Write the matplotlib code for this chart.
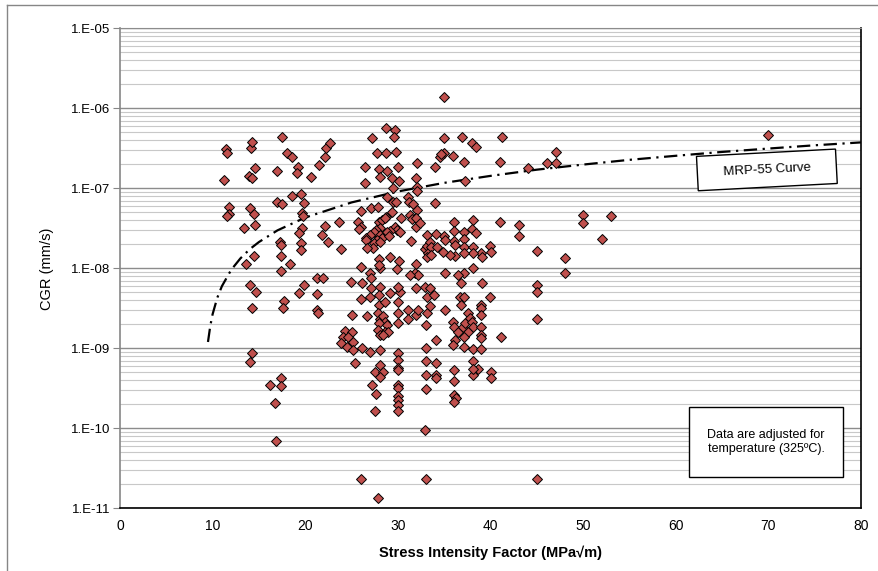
"""
CGR vs stress intensity factor with the MRP-55 curve, out.png.
"""
import matplotlib
matplotlib.use("Agg")
import matplotlib.pyplot as plt
from matplotlib.lines import Line2D
from matplotlib.patches import Rectangle
from matplotlib.ticker import LogLocator, FixedLocator, NullFormatter

plt.rcParams["font.family"] = ["Liberation Sans", "DejaVu Sans"]

# data points, K in MPa*sqrt(m), CGR in mm/s, grouped by K range
K_LOW = [11.4, 11.6, 11.2, 11.8, 11.8, 11.6, 13.4, 13.6, 14.5, 14.1,
         14.3, 14.6, 13.9, 14.2, 14.0, 14.5, 14.6, 17.5, 18.0, 18.6,
         19.2, 19.1, 16.9, 20.6, 21.5, 22.1, 22.2, 22.7, 18.6, 19.5,
         19.9, 19.7, 19.8, 16.9, 17.5, 19.7, 19.3, 19.5, 19.5, 17.3,
         17.4, 17.4, 18.4, 17.4, 21.8, 22.5, 22.1, 23.6, 23.9, 21.3,
         21.9, 14.0, 14.7, 19.9, 19.3, 21.3, 17.7, 17.6, 14.2, 14.2,
         14.0, 21.3, 21.4, 17.4, 17.4, 16.2, 16.7, 16.8]
CGR_LOW = [3.1e-7, 2.8e-7, 1.27e-7, 5.8e-8, 4.8e-8, 4.5e-8, 3.2e-8, 1.12e-8, 1.42e-8, 3.2e-7,
           3.8e-7, 1.8e-7, 1.42e-7, 1.36e-7, 5.6e-8, 4.8e-8, 3.5e-8, 4.35e-7, 2.8e-7, 2.46e-7,
           1.83e-7, 1.54e-7, 1.65e-7, 1.4e-7, 1.96e-7, 2.44e-7, 3.16e-7, 3.65e-7, 8.1e-8, 8.5e-8,
           6.5e-8, 4.9e-8, 4.5e-8, 6.8e-8, 6.4e-8, 3.2e-8, 2.8e-8, 2.07e-8, 1.68e-8, 2.13e-8,
           1.98e-8, 1.44e-8, 1.12e-8, 9.2e-9, 2.6e-8, 2.15e-8, 3.4e-8, 3.76e-8, 1.76e-8, 7.5e-9,
           7.5e-9, 6.1e-9, 5.0e-9, 6.1e-9, 4.9e-9, 4.75e-9, 3.9e-9, 3.2e-9, 3.2e-9, 8.8e-10,
           6.7e-10, 3.0e-9, 2.8e-9, 4.2e-10, 3.4e-10, 3.5e-10, 2.07e-10, 6.9e-11]

K_HIGH_CGR = [35.0, 28.7, 29.7, 29.6, 27.2, 27.7, 28.7, 29.8, 32.1, 26.4,
              28.0, 28.8, 30.0, 28.1, 29.4, 30.1, 26.4, 29.5, 32.0, 32.1,
              32.1, 35.0, 36.9, 38.0, 38.4, 35.0, 34.5, 36.0, 37.1, 34.0,
              37.3, 41.2, 41.0, 44.0, 46.1, 47.1, 47.1, 70.0, 34.0, 34.7]
CGR_HIGH_CGR = [1.4e-6, 5.7e-7, 5.35e-7, 4.4e-7, 4.2e-7, 2.8e-7, 2.8e-7, 2.87e-7, 2.1e-7, 1.87e-7,
                1.73e-7, 1.65e-7, 1.85e-7, 1.4e-7, 1.35e-7, 1.24e-7, 1.17e-7, 1.02e-7, 1.35e-7, 1.03e-7,
                9.2e-8, 4.3e-7, 4.35e-7, 3.7e-7, 3.3e-7, 2.8e-7, 2.46e-7, 2.53e-7, 2.13e-7, 1.85e-7,
                1.25e-7, 4.35e-7, 2.16e-7, 1.78e-7, 2.05e-7, 2.82e-7, 2.1e-7, 4.7e-7, 6.6e-8, 2.7e-7]

K_MID = [28.8, 29.5, 29.8, 31.1, 31.2, 31.6, 32.1, 26.0, 27.1, 27.9,
         25.7, 26.0, 25.8, 28.0, 28.3, 28.7, 28.6, 29.4, 30.3, 31.3,
         31.5, 32.0, 29.7, 29.9, 30.2, 29.2, 28.8, 28.1, 27.6, 27.4,
         27.0, 26.6, 26.6, 28.1, 28.3, 27.7, 29.0, 27.4, 28.1, 27.3,
         26.7, 32.0, 32.4, 31.4, 32.9, 33.1, 33.3, 33.1, 28.0, 29.2,
         30.1, 28.1, 28.0, 26.0, 29.9, 32.0, 31.9, 32.2, 31.3, 27.0,
         27.1, 26.1, 24.9, 27.1, 28.1, 29.2, 30.2, 30.0, 27.0, 28.0,
         26.0, 32.0, 32.9, 33.5, 33.1, 33.9, 28.0, 28.6, 30.0, 30.0,
         25.1, 26.7, 27.9, 28.1, 28.4, 28.6, 28.0, 28.8, 27.9, 28.6,
         28.9, 28.1, 28.4, 30.0, 31.1, 31.1, 32.0, 32.2, 24.3, 25.0,
         24.1, 24.6, 23.9, 24.5, 25.2, 25.2, 26.1, 27.0, 28.1, 30.0,
         30.0, 30.0, 30.0, 25.4, 28.1, 27.5, 28.4, 28.1, 30.0, 30.0,
         27.2, 27.6, 30.0, 30.0, 30.0, 30.0, 27.5, 32.9, 26.0, 33.0,
         45.0, 27.9, 33.0, 33.0, 33.0, 33.0, 34.1, 34.1, 34.1, 33.0,
         34.1, 33.2, 33.5]
CGR_MID = [7.8e-8, 6.8e-8, 6.7e-8, 7.7e-8, 6.8e-8, 6.4e-8, 5.4e-8, 5.2e-8, 5.6e-8, 5.9e-8,
           3.8e-8, 3.3e-8, 3.1e-8, 3.8e-8, 4.0e-8, 4.4e-8, 4.2e-8, 5.1e-8, 4.3e-8, 4.6e-8,
           4.1e-8, 4.3e-8, 3.25e-8, 3.0e-8, 2.87e-8, 2.9e-8, 2.87e-8, 3.2e-8, 3.0e-8, 2.87e-8,
           2.6e-8, 2.37e-8, 2.26e-8, 2.6e-8, 2.37e-8, 2.26e-8, 2.5e-8, 2.05e-8, 2.15e-8, 1.78e-8,
           1.78e-8, 3.3e-8, 3.65e-8, 2.2e-8, 1.74e-8, 1.9e-8, 1.54e-8, 1.4e-8, 1.3e-8, 1.4e-8,
           1.24e-8, 1.0e-8, 1.1e-8, 1.05e-8, 9.7e-9, 1.13e-8, 8.7e-9, 8.3e-9, 8.3e-9, 8.7e-9,
           7.5e-9, 6.5e-9, 6.7e-9, 5.6e-9, 5.9e-9, 4.9e-9, 5.1e-9, 5.9e-9, 4.4e-9, 4.6e-9,
           4.1e-9, 5.6e-9, 5.9e-9, 5.75e-9, 4.4e-9, 4.6e-9, 3.5e-9, 3.76e-9, 3.76e-9, 2.8e-9,
           2.6e-9, 2.5e-9, 2.8e-9, 2.3e-9, 2.5e-9, 2.15e-9, 2.05e-9, 1.96e-9, 1.7e-9, 1.6e-9,
           1.6e-9, 1.47e-9, 1.47e-9, 2.05e-9, 3.0e-9, 2.3e-9, 2.6e-9, 3.0e-9, 1.66e-9, 1.58e-9,
           1.4e-9, 1.4e-9, 1.15e-9, 1.05e-9, 1.19e-9, 9.5e-10, 1.0e-9, 9.1e-10, 9.5e-10, 8.7e-10,
           7.1e-10, 5.6e-10, 5.3e-10, 6.6e-10, 6.2e-10, 5.1e-10, 5.1e-10, 4.35e-10, 3.5e-10, 3.16e-10,
           3.5e-10, 2.7e-10, 2.5e-10, 2.26e-10, 1.96e-10, 1.66e-10, 1.66e-10, 9.5e-11, 2.35e-11, 2.35e-11,
           2.35e-11, 1.36e-11, 1.0e-9, 7.0e-10, 4.6e-10, 3.07e-10, 6.6e-10, 4.6e-10, 4.25e-10, 1.96e-9,
           1.27e-9, 2.76e-9, 3.4e-9]

K_RIGHT = [36.1, 38.1, 41.0, 43.1, 43.1, 38.0, 38.4, 37.1, 36.1, 35.0,
           34.1, 37.1, 36.1, 35.1, 33.1, 33.5, 33.6, 34.2, 36.2, 37.1,
           38.1, 40.0, 40.1, 39.0, 39.1, 38.1, 37.1, 36.2, 35.6, 34.9,
           33.6, 35.1, 38.1, 37.1, 36.5, 36.8, 39.1, 36.7, 37.1, 40.0,
           36.8, 35.1, 37.6, 39.0, 39.0, 39.0, 35.9, 36.1, 36.5, 37.0,
           37.2, 37.8, 38.0, 38.1, 37.6, 37.1, 36.2, 35.9, 39.0, 39.0,
           39.0, 41.1, 37.1, 38.1, 39.0, 36.1, 38.1, 38.6, 38.1, 40.1,
           40.1, 36.1, 36.1, 36.3, 36.1, 38.1,
           45.0, 45.0, 45.0, 45.0, 48.0, 48.0, 50.0, 50.0, 53.0, 52.0]
CGR_RIGHT = [3.8e-8, 4.0e-8, 3.76e-8, 3.5e-8, 2.55e-8, 3.07e-8, 2.8e-8, 2.87e-8, 2.95e-8, 2.5e-8,
             2.7e-8, 2.3e-8, 2.2e-8, 2.26e-8, 2.58e-8, 2.15e-8, 1.86e-8, 1.86e-8, 1.96e-8, 1.83e-8,
             1.86e-8, 1.9e-8, 1.6e-8, 1.54e-8, 1.4e-8, 1.54e-8, 1.54e-8, 1.42e-8, 1.47e-8, 1.6e-8,
             1.47e-8, 8.8e-9, 1.0e-8, 8.7e-9, 8.3e-9, 6.6e-9, 6.6e-9, 4.4e-9, 4.4e-9, 4.4e-9,
             3.5e-9, 3.0e-9, 2.8e-9, 3.5e-9, 3.16e-9, 2.6e-9, 2.15e-9, 1.86e-9, 1.6e-9, 1.86e-9,
             2.05e-9, 2.37e-9, 2.15e-9, 1.86e-9, 1.6e-9, 1.4e-9, 1.27e-9, 1.1e-9, 1.86e-9, 1.47e-9,
             1.33e-9, 1.4e-9, 1.05e-9, 9.7e-10, 9.7e-10, 5.35e-10, 7.0e-10, 5.5e-10, 4.6e-10, 5.0e-10,
             4.2e-10, 3.9e-10, 2.6e-10, 2.37e-10, 2.15e-10, 5.5e-10,
             1.63e-8, 6.2e-9, 5.0e-9, 2.3e-9, 1.33e-8, 8.7e-9, 4.7e-8, 3.7e-8, 4.5e-8, 2.35e-8]

# MRP-55 curve
MRP_K = [9.5, 9.75, 10, 10.5, 11, 12, 13, 14, 15, 17, 20, 25, 30, 35,
         40, 45, 50, 55, 60, 65, 70, 75, 80]
MRP_CGR = [1.2e-9, 1.91e-9, 2.67e-9, 4.27e-9, 5.97e-9, 9.55e-9, 1.33e-8, 1.73e-8,
           2.13e-8, 2.98e-8, 4.31e-8, 6.66e-8, 9.13e-8, 1.17e-7, 1.43e-7, 1.71e-7,
           1.98e-7, 2.27e-7, 2.55e-7, 2.85e-7, 3.14e-7, 3.45e-7, 3.75e-7]

Y_TICKS = [1e-11, 1e-10, 1e-9, 1e-8, 1e-7, 1e-6, 1e-5]
Y_TICK_LABELS = ["1.E-11", "1.E-10", "1.E-09", "1.E-08", "1.E-07", "1.E-06", "1.E-05"]
X_TICKS = [0, 10, 20, 30, 40, 50, 60, 70, 80]

stress_k = K_LOW + K_HIGH_CGR + K_MID + K_RIGHT
cgr = CGR_LOW + CGR_HIGH_CGR + CGR_MID + CGR_RIGHT

fig = plt.figure(figsize=(8.79, 5.71), dpi=100)
ax = fig.add_axes([0.1365, 0.1098, 0.843, 0.8406])

ax.set_yscale("log")
ax.set_xlim(0, 80)
ax.set_ylim(1e-11, 1e-5)

ax.yaxis.set_major_locator(FixedLocator(Y_TICKS))
ax.set_yticklabels(Y_TICK_LABELS)
ax.yaxis.set_minor_locator(LogLocator(base=10, subs=range(2, 10), numticks=20))
ax.yaxis.set_minor_formatter(NullFormatter())
ax.set_xticks(X_TICKS)
ax.set_xticklabels([str(v) for v in X_TICKS])

ax.grid(True, which="major", axis="y", color="#8c8c8c", lw=1.0, zorder=0)
ax.grid(True, which="minor", axis="y", color="#c8c8c8", lw=0.8, zorder=0)
ax.set_axisbelow(True)

ax.tick_params(axis="y", which="major", length=5, color="#868686", labelsize=9.5, pad=2)
ax.tick_params(axis="y", which="minor", length=0)
ax.tick_params(axis="x", which="major", length=0, labelsize=10, pad=8)

ax.spines["left"].set_color("#868686")
ax.spines["top"].set_color("#8c8c8c")
ax.spines["right"].set_color("black")
ax.spines["bottom"].set_color("black")
for side in ["left", "bottom", "right"]:
    ax.spines[side].set_linewidth(1.2)

ax.plot(MRP_K, MRP_CGR, color="black", lw=1.6,
        linestyle=(0, (6, 2.5, 1, 2.5)), zorder=3)
ax.plot(stress_k, cgr, linestyle="none", marker="D", ms=4.8,
        markerfacecolor="#C0504D", markeredgecolor="black", markeredgewidth=0.7,
        zorder=4)

ax.set_xlabel("Stress Intensity Factor (MPa\u221am)", fontsize=10.5,
              fontweight="bold", labelpad=9)
ax.set_ylabel("CGR (mm/s)", fontsize=10.5, labelpad=12)

ax.text(0.873, 0.705, "    MRP-55 Curve    ", transform=ax.transAxes,
        ha="center", va="center", fontsize=9.5, rotation=3, zorder=6,
        bbox=dict(boxstyle="square,pad=0.85", fc="white", ec="black", lw=1.0))

ax.add_patch(Rectangle((0.768, 0.065), 0.208, 0.146, transform=ax.transAxes,
                       fc="white", ec="black", lw=1.0, zorder=6))
ax.text(0.872, 0.138, "Data are adjusted for\ntemperature (325\u00baC).",
        transform=ax.transAxes, ha="center", va="center", fontsize=9,
        linespacing=1.3, zorder=7)

# Excel chart-area border (only left and top visible in the crop)
fig.add_artist(Line2D([7 / 879, 7 / 879], [0, 1 - 5 / 571],
                      transform=fig.transFigure, color="#868686", lw=1.0))
fig.add_artist(Line2D([7 / 879, 1], [1 - 5 / 571, 1 - 5 / 571],
                      transform=fig.transFigure, color="#868686", lw=1.0))

fig.savefig("out.png", dpi=100)
